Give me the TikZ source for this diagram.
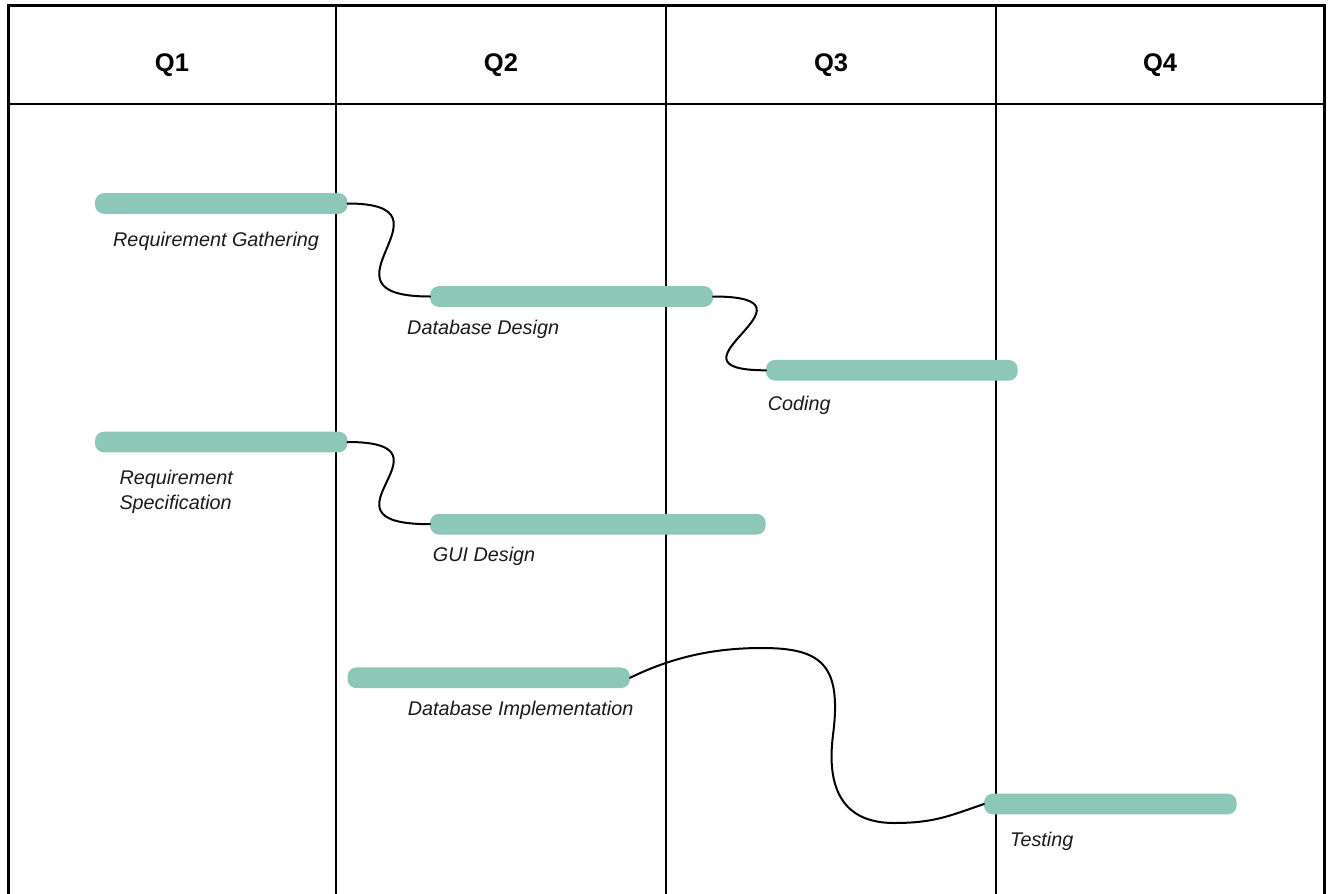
\documentclass[tikz,border=0pt]{standalone}
\usepackage{fontspec}
\setmainfont{Liberation Sans}
\definecolor{barcol}{HTML}{8CC7B8}
\definecolor{txtcol}{HTML}{1A1A1A}
\begin{document}
\begin{tikzpicture}[x=1pt,y=-1pt,
  frame/.style={line width=3pt,black},
  gridline/.style={line width=2.2pt,black},
  bar/.style={fill=barcol,draw=none,rounded corners=9pt,minimum height=20.7pt,inner sep=0pt,outer sep=0pt},
  hdr/.style={anchor=base,inner sep=0pt,font=\fontsize{25.5}{30}\selectfont\bfseries},
  lbl/.style={anchor=base west,inner sep=0pt,text=txtcol,font=\fontsize{19.8}{25.3}\selectfont\itshape},
  conn/.style={line width=2pt,black,line cap=round}]
\useasboundingbox (0,0) rectangle (1331,894);
% grid
\draw[frame] (8.5,894) -- (8.5,5.5) -- (1324,5.5) -- (1324,894);
\draw[gridline] (8.5,104) -- (1324,104);
\foreach \xx in {336,666,996} \draw[gridline] (\xx,5.5) -- (\xx,894);
% headers
\node[hdr] (q1) at (172,71) {Q1};
\node[hdr] (q2) at (501,71) {Q2};
\node[hdr] (q3) at (831,71) {Q3};
\node[hdr] (q4) at (1160,71) {Q4};
% bars
\node[bar,minimum width=252.5pt] (rg) at (221.25,203.5) {};
\node[bar,minimum width=283pt] (dd) at (571.5,296.5) {};
\node[bar,minimum width=251.7pt] (cd) at (891.85,370.3) {};
\node[bar,minimum width=252.5pt] (rs) at (221.25,442) {};
\node[bar,minimum width=335.7pt] (gd) at (597.85,524.2) {};
\node[bar,minimum width=282.5pt] (di) at (488.75,677.8) {};
\node[bar,minimum width=252.7pt] (ts) at (1110.35,804) {};
% labels
\node[lbl] (lrg) at (113,246) {Requirement Gathering};
\node[lbl] (ldd) at (407,334) {Database Design};
\node[lbl] (lcd) at (767.7,410.7) {Coding};
\node[lbl] (lrs) at (119.3,484) {\begin{tabular}[t]{@{}l@{}}Requirement\\Specification\end{tabular}};
\node[lbl] (lgd) at (432.7,561.7) {GUI Design};
\node[lbl] (ldi) at (407.6,715.7) {Database Implementation};
\node[lbl] (lts) at (1010,846) {Testing};
% connectors
\draw[conn] (rg.east) .. controls +(118,0) and +(-125,0) .. (dd.west);
\draw[conn] (dd.east) .. controls +(122,0) and +(-115,0) .. (cd.west);
\draw[conn] (rs.east) .. controls +(118,0) and +(-125,0) .. (gd.west);
\coordinate (w1) at (762,648);
\coordinate (w2) at (833,735);
\coordinate (w3) at (894,823);
\draw[conn] (di.east) .. controls +(45,-22) and +(-45,0) .. (w1)
  .. controls +(60,0) and +(9,-70) .. (w2)
  .. controls +(-7,55) and +(-50,0) .. (w3)
  .. controls +(40,0) and +(-35,12) .. (ts.west);
\end{tikzpicture}
\end{document}
